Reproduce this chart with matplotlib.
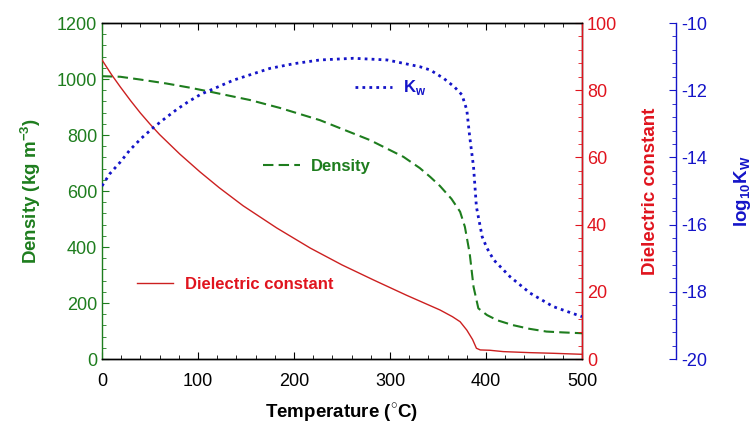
import numpy as np
import matplotlib.pyplot as plt
from matplotlib.ticker import MultipleLocator

plt.rcParams['font.family'] = ['Liberation Sans', 'DejaVu Sans']
plt.rcParams['mathtext.fontset'] = 'custom'
plt.rcParams['mathtext.rm'] = 'Liberation Sans'
plt.rcParams['mathtext.bf'] = 'Liberation Sans:bold'
plt.rcParams['axes.unicode_minus'] = False

# Density (kg m-3) vs temperature (C)
t_dens = [0, 19, 40, 67, 90, 112, 154, 185, 227, 279, 314, 331, 342, 352, 364, 373, 378,
          383, 387, 392, 401, 412, 428, 445, 463, 480, 500]
density = [1010, 1008, 998, 984, 970, 955, 925, 897, 853, 782, 722, 682, 650, 618, 572, 526, 472,
           377, 258, 181, 157, 138, 121, 108, 98, 95, 92]

# Dielectric constant vs temperature
t_diel = [0, 10, 19, 30, 40, 50, 60, 81, 102, 122, 147, 182, 217, 250, 283, 317, 352, 365, 373,
          380, 386, 390, 394, 404, 418, 445, 470, 500]
dielectric = [89, 84.6, 81.0, 76.8, 73.2, 69.9, 66.8, 61.0, 55.7, 51.0, 45.6, 39.0, 33.0, 28.0, 23.5,
              19.0, 14.6, 12.6, 11.1, 8.6, 5.8, 3.2, 2.7, 2.6, 2.2, 1.9, 1.7, 1.4]

# log10 Kw vs temperature
t_kw = [0, 8, 19, 29, 41, 54, 66, 78, 90, 103, 116, 137, 175, 200, 227, 262, 297, 331, 342,
        356, 367, 375, 380, 383, 387, 390, 396, 401, 408, 425, 446, 470, 500]
log_kw = [-14.85, -14.49, -14.14, -13.78, -13.43, -13.10, -12.83, -12.57, -12.34, -12.12, -11.96,
          -11.70, -11.35, -11.21, -11.10, -11.05, -11.10, -11.30, -11.40, -11.65, -11.9, -12.14,
          -12.59, -13.38, -14.28, -15.47, -16.36, -16.7, -17.05, -17.55, -18.04, -18.44, -18.74]

green = '#1e7d1e'
red = '#e0141e'
blue = '#1414c8'

fig = plt.figure(figsize=(7.54, 4.34), dpi=100)
ax = fig.add_axes([0.1353, 0.1728, 0.6366, 0.7742])
ax2 = ax.twinx()
ax3 = ax.twinx()
ax3.spines['right'].set_position(('axes', 1.196))

l1, = ax.plot(t_dens, density, color=green, lw=1.5, dashes=(5, 2.5))
l2, = ax2.plot(t_diel, dielectric, color='#cc2020', lw=1)
l3, = ax3.plot(t_kw, log_kw, color=blue, lw=2, linestyle=(0, (1, 1.5)))

ax.set_xlim(0, 500)
ax.set_ylim(0, 1200)
ax2.set_ylim(0, 100)
ax3.set_ylim(-20, -10)

ax.xaxis.set_major_locator(MultipleLocator(100))
ax.xaxis.set_minor_locator(MultipleLocator(20))
ax.yaxis.set_major_locator(MultipleLocator(200))
ax.yaxis.set_minor_locator(MultipleLocator(40))
ax2.yaxis.set_major_locator(MultipleLocator(20))
ax2.yaxis.set_minor_locator(MultipleLocator(4))
ax3.yaxis.set_major_locator(MultipleLocator(2))
ax3.yaxis.set_minor_locator(MultipleLocator(0.4))

ax.tick_params(axis='x', which='both', direction='in', top=True, labelsize=13, pad=10)
ax.tick_params(axis='x', which='major', length=5)
ax.tick_params(axis='x', which='minor', length=3)
ax.tick_params(axis='y', which='both', direction='in', colors=green, labelsize=13)
ax.tick_params(axis='y', which='major', length=5)
ax.tick_params(axis='y', which='minor', length=3)
ax2.tick_params(axis='y', which='both', direction='in', colors=red, labelsize=13)
ax2.tick_params(axis='y', which='major', length=5)
ax2.tick_params(axis='y', which='minor', length=3)
ax3.tick_params(axis='y', which='both', direction='in', colors=blue, labelsize=13)
ax3.tick_params(axis='y', which='major', length=5)
ax3.tick_params(axis='y', which='minor', length=3)

for a in (ax, ax2, ax3):
    for s in a.spines.values():
        s.set_linewidth(1)
ax.spines['left'].set_color(green)
ax2.spines['left'].set_visible(False)
ax2.spines['right'].set_color(red)
ax3.spines['left'].set_visible(False)
ax3.spines['top'].set_visible(False)
ax3.spines['bottom'].set_visible(False)
ax3.spines['right'].set_color(blue)

ax.set_xlabel('Temperature ($^{\\circ}$C)', fontsize=13.5, fontweight='bold', labelpad=8)
ax.set_ylabel('Density (kg m$^\\mathbf{-3}$)', fontsize=13.5, fontweight='bold', color=green, labelpad=10)
ax2.set_ylabel('Dielectric constant', fontsize=13.5, fontweight='bold', color=red, labelpad=18)
ax3.set_ylabel('log$_\\mathbf{10}$K$_\\mathbf{W}$', fontsize=13.5, fontweight='bold', color=blue, labelpad=18)

# in-plot labels
leg_props = dict(frameon=False, handlelength=2.2, handletextpad=0.7, borderpad=0,
                 prop={'weight': 'bold', 'size': 12})
lg1 = ax.legend([l3], ['K$_\\mathbf{w}$'], loc='center left', bbox_to_anchor=(0.51, 0.807), **leg_props)
lg1.get_texts()[0].set_color(blue)
ax.add_artist(lg1)
lg2 = ax.legend([l1], ['Density'], loc='center left', bbox_to_anchor=(0.318, 0.573), **leg_props)
lg2.get_texts()[0].set_color(green)
ax.add_artist(lg2)
lg3 = ax.legend([l2], ['Dielectric constant'], loc='center left', bbox_to_anchor=(0.055, 0.223), **leg_props)
lg3.get_texts()[0].set_color(red)

fig.savefig('out.png', dpi=100)
